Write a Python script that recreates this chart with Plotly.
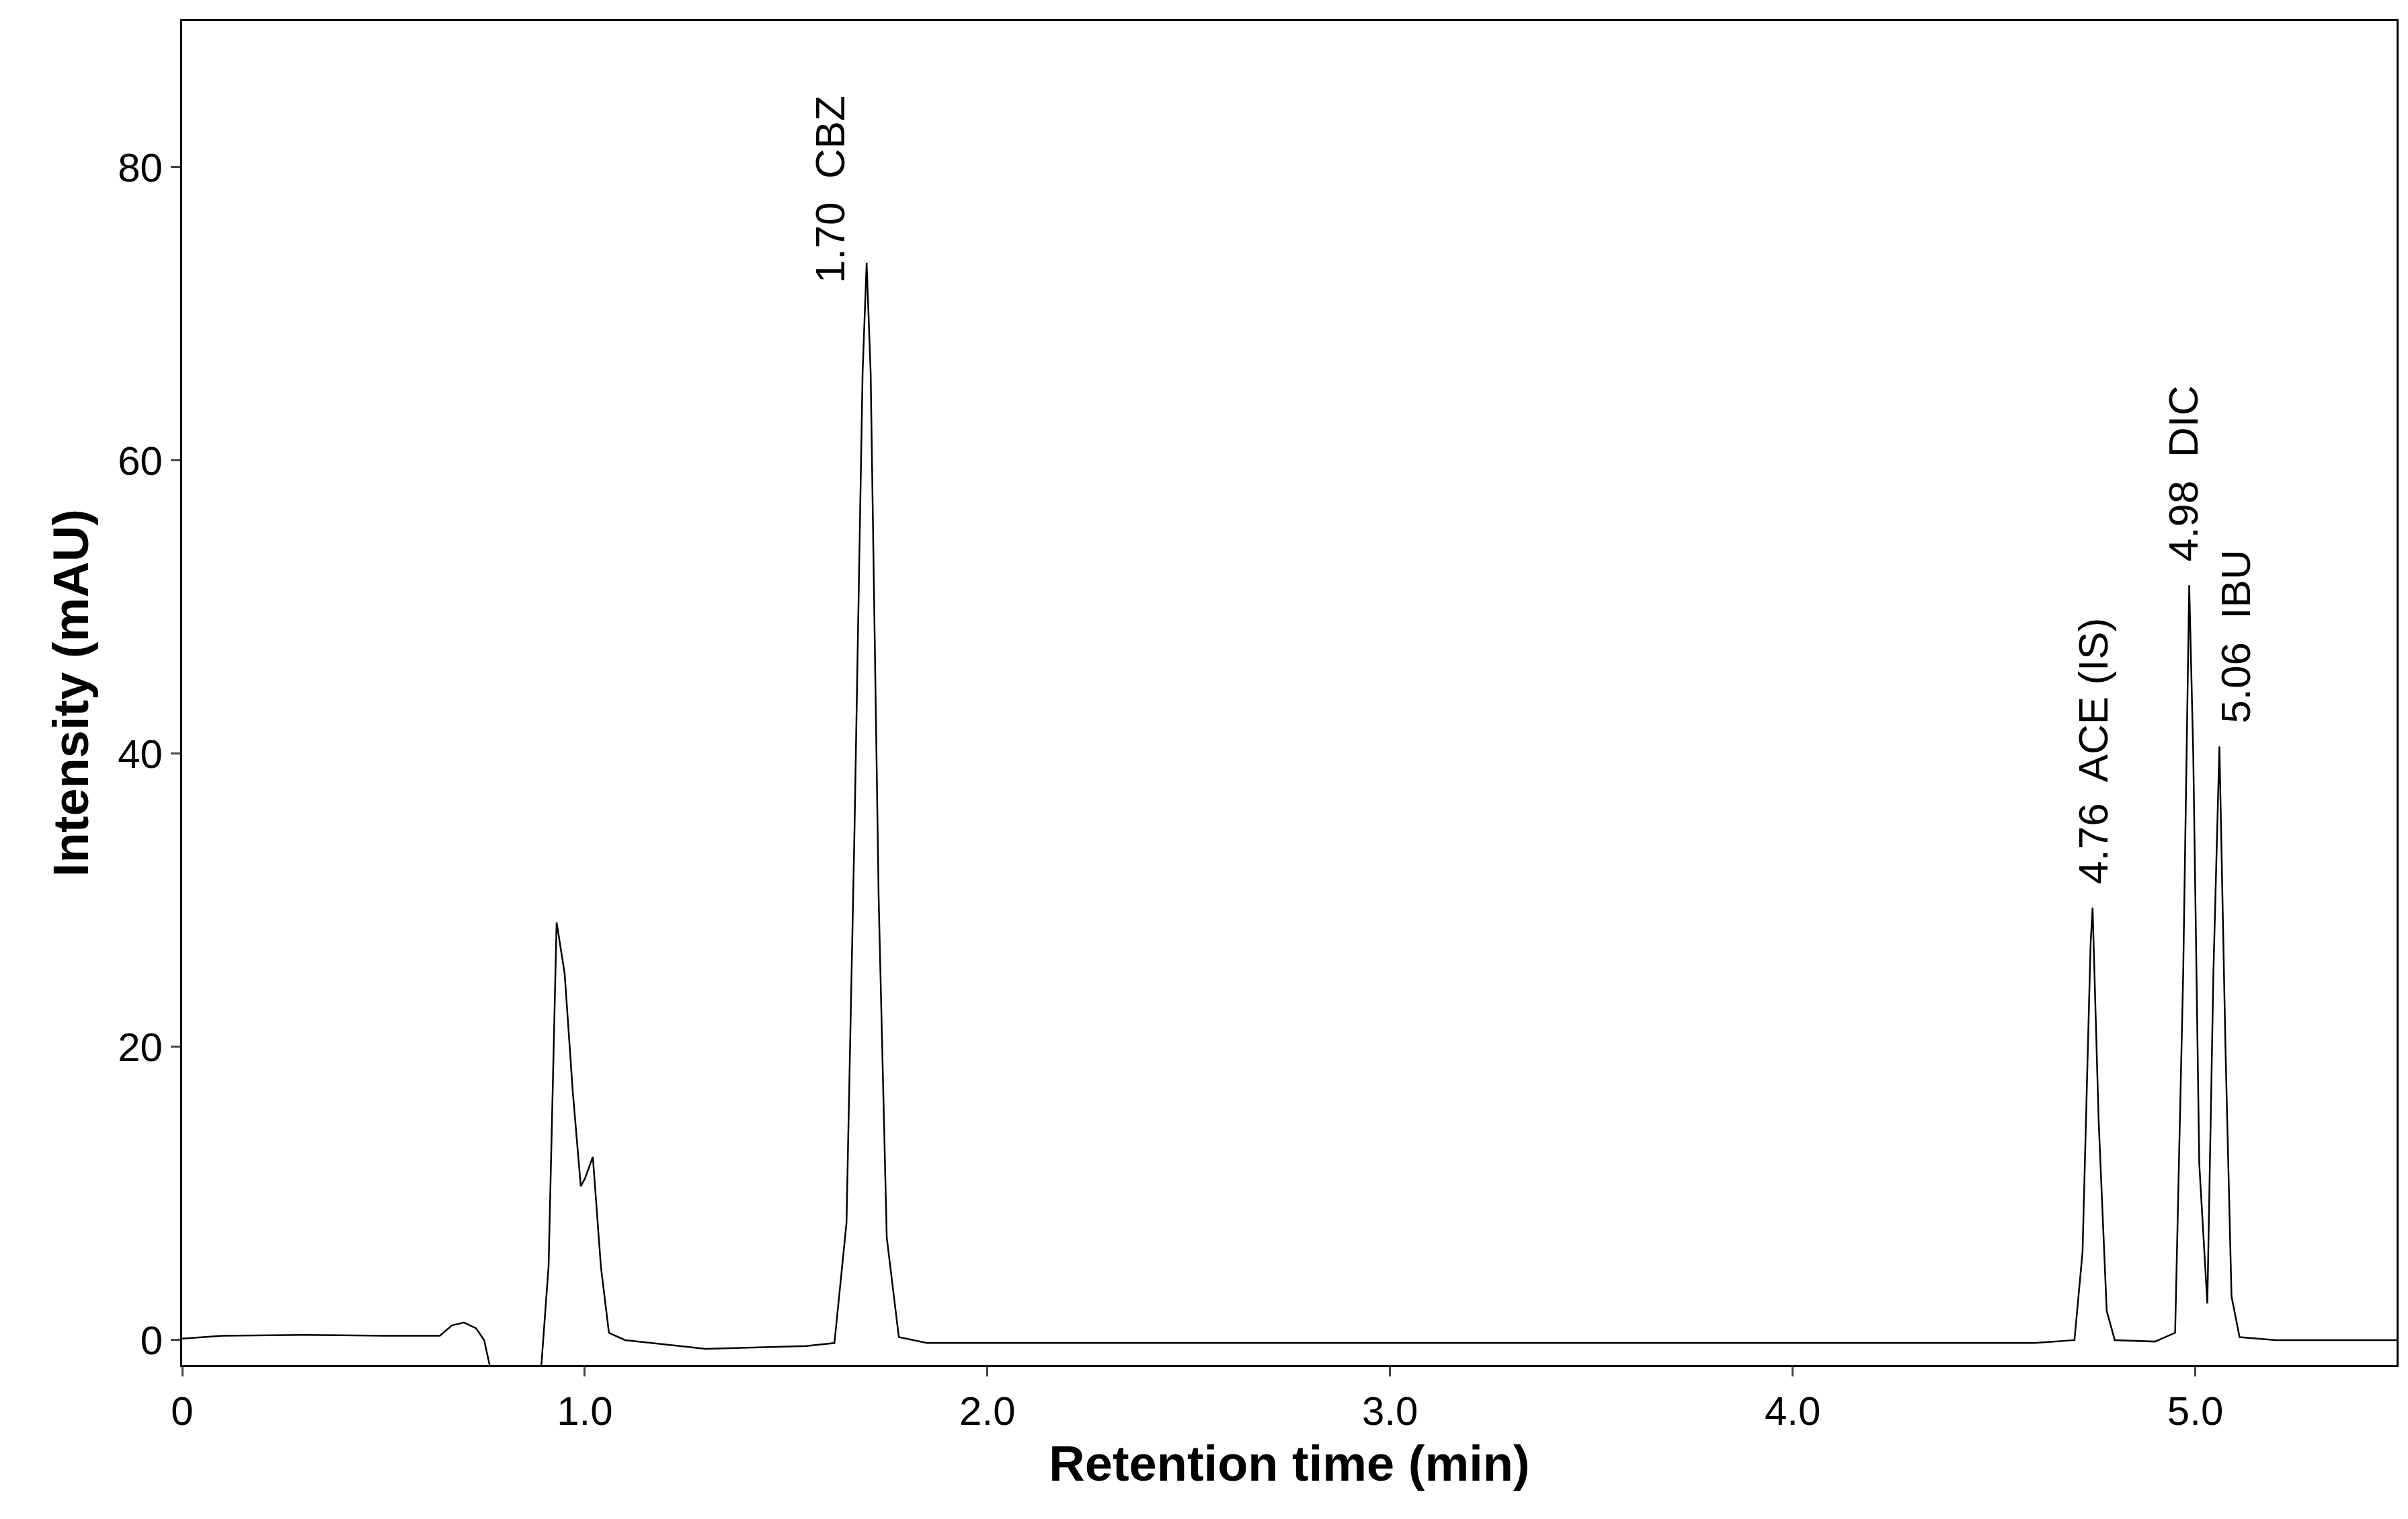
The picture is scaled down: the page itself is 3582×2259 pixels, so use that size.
import plotly.graph_objects as go

t = [0.0, 0.1, 0.3, 0.5, 0.64, 0.67, 0.70, 0.73, 0.75, 0.77, 0.80, 0.89, 0.91, 0.93, 0.95, 0.97, 0.99, 1.00, 1.02, 1.04, 1.06, 1.10, 1.30, 1.55, 1.62, 1.65, 1.67, 1.69, 1.70, 1.71, 1.73, 1.75, 1.78, 1.85, 3.0, 4.6, 4.70, 4.72, 4.74, 4.745, 4.76, 4.78, 4.80, 4.90, 4.95, 4.97, 4.985, 4.995, 5.01, 5.03, 5.045, 5.06, 5.075, 5.09, 5.11, 5.2, 5.5]
y = [0.1, 0.3, 0.35, 0.3, 0.3, 1.0, 1.2, 0.8, 0.0, -2.5, -2.5, -2.5, 5.0, 28.5, 25.0, 17.0, 10.5, 11.0, 12.5, 5.0, 0.5, 0.0, -0.6, -0.4, -0.2, 8.0, 35.0, 66.0, 73.5, 66.0, 30.0, 7.0, 0.2, -0.2, -0.2, -0.2, 0.0, 6.0, 27.0, 29.5, 15.0, 2.0, 0.0, -0.1, 0.5, 25.0, 51.5, 40.0, 12.0, 2.5, 25.0, 40.5, 20.0, 3.0, 0.2, 0.0, 0.0]

labels = ["1.70  CBZ", "4.76  ACE (IS)", "4.98  DIC", "5.06  IBU"]
label_x = [1.61, 4.745, 4.97, 5.10]
label_y = [72, 31, 53, 42]

fig = go.Figure(go.Scatter(x=t, y=y, mode="lines", line=dict(color="black", width=2.5)))
for s, lx, ly in zip(labels, label_x, label_y):
    fig.add_annotation(x=lx, y=ly, text=s, textangle=-90, showarrow=False,
                       xanchor="center", yanchor="bottom",
                       font=dict(family="Liberation Sans", size=62, color="black"))
fig.update_layout(
    width=3582, height=2259, plot_bgcolor="white", paper_bgcolor="white",
    margin=dict(l=263, r=25, t=23, b=237), showlegend=False,
    font=dict(family="Liberation Sans", color="black"),
)
fig.update_xaxes(range=[0, 5.5], tickvals=[0, 1, 2, 3, 4, 5], ticktext=["0", "1.0", "2.0", "3.0", "4.0", "5.0"],
                 ticks="outside", ticklen=14, tickwidth=3, showline=True, linecolor="black", linewidth=3,
                 mirror=True, showgrid=False, zeroline=False,
                 tickfont=dict(size=60, family="Liberation Sans"),
                 title=dict(text="<b>Retention time (min)</b>", font=dict(size=74), standoff=20))
fig.update_yaxes(range=[-1.7, 90], tickvals=[0, 20, 40, 60, 80],
                 ticks="outside", ticklen=14, tickwidth=3, showline=True, linecolor="black", linewidth=3,
                 mirror=True, showgrid=False, zeroline=False,
                 tickfont=dict(size=60, family="Liberation Sans"),
                 title=dict(text="<b>Intensity (mAU)</b>", font=dict(size=74), standoff=20))
fig.update_xaxes(tickprefix="<b>", ticksuffix="</b>")
fig.update_yaxes(tickprefix="<b>", ticksuffix="</b>")
fig.write_html("out.html")
